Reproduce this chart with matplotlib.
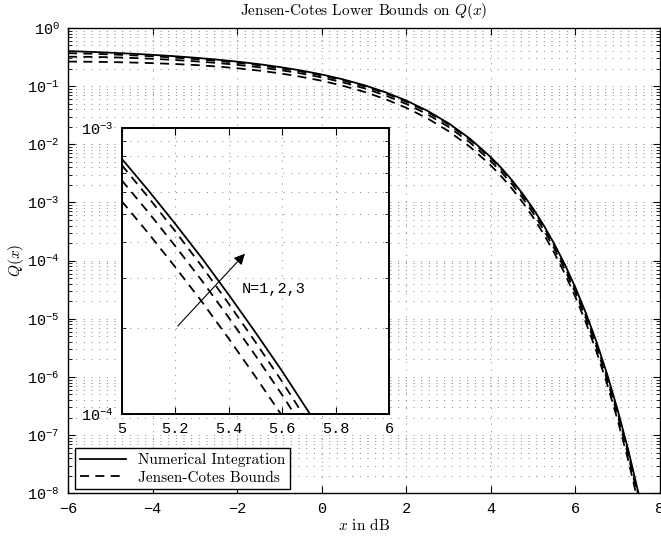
import matplotlib
matplotlib.use('Agg')
import matplotlib.pyplot as plt
import numpy as np
from matplotlib.ticker import LogLocator, NullFormatter, FormatStrFormatter, LogFormatterSciNotation

# x in dB and values (main plot)
x_db = [-6.0, -5.5, -5.0, -4.5, -4.0, -3.5, -3.0, -2.5, -2.0, -1.5, -1.0, -0.5,
        0.0, 0.5, 1.0, 1.5, 2.0, 2.5, 3.0, 3.5, 4.0, 4.25, 4.5, 4.75, 5.0, 5.25,
        5.5, 5.75, 6.0, 6.25, 6.5, 6.75, 7.0, 7.25, 7.5, 7.75]

q_num = [0.4008, 0.3890, 0.3759, 0.3614, 0.3453, 0.3275, 0.3081, 0.2870, 0.2640,
         0.2395, 0.2135, 0.1864, 0.1587, 0.1310, 0.1040, 0.0789, 0.0565, 0.0377,
         0.0230, 0.01259, 0.00600, 0.00390, 0.002413, 0.001416, 7.83e-4, 4.045e-4,
         1.94e-4, 8.55e-5, 3.43e-5, 1.24e-5, 3.97e-6, 1.115e-6, 2.69e-7, 5.52e-8,
         9.4e-9, 1.28e-9]

q_jc1 = [0.2645, 0.2626, 0.2594, 0.2548, 0.2486, 0.2407, 0.2311, 0.2181, 0.2033,
         0.1856, 0.1665, 0.1454, 0.1238, 0.1015, 0.0801, 0.0600, 0.0424, 0.0279,
         0.01679, 0.00913, 0.00432, 0.00280, 0.001725, 0.001008, 5.56e-4, 2.852e-4,
         1.358e-4, 5.94e-5, 2.367e-5, 8.49e-6, 2.70e-6, 7.53e-7, 1.80e-7, 3.67e-8,
         6.20e-9, 8.45e-10]

q_jc2 = [0.3206, 0.3190, 0.3139, 0.3054, 0.2952, 0.2823, 0.2680, 0.2511, 0.2323,
         0.2120, 0.1896, 0.1659, 0.1412, 0.1163, 0.0920, 0.0694, 0.0494, 0.0328,
         0.01990, 0.01083, 0.00513, 0.00332, 0.002051, 0.001197, 6.58e-4, 3.378e-4,
         1.610e-4, 7.01e-5, 2.795e-5, 1.004e-5, 3.20e-6, 8.92e-7, 2.15e-7, 4.39e-8,
         7.43e-9, 1.01e-9]

q_jc3 = [0.3687, 0.3618, 0.3515, 0.3397, 0.3263, 0.3105, 0.2927, 0.2732, 0.2521,
         0.2292, 0.2045, 0.1789, 0.1524, 0.1258, 0.0996, 0.0755, 0.0540, 0.0360,
         0.02192, 0.01199, 0.00571, 0.00371, 0.002292, 0.001345, 7.44e-4, 3.802e-4,
         1.795e-4, 7.78e-5, 3.104e-5, 1.116e-5, 3.57e-6, 1.004e-6, 2.42e-7, 4.97e-8,
         8.46e-9, 1.15e-9]

# finer readings for the zoomed inset
x_zoom = [5.0, 5.1, 5.2, 5.3, 5.4, 5.5, 5.6, 5.7, 5.8]
q_num_zoom = [7.83e-4, 6.06e-4, 4.635e-4, 3.512e-4, 2.619e-4, 1.933e-4, 1.413e-4, 1.015e-4, 7.175e-5]
q_jc1_zoom = [5.56e-4, 4.29e-4, 3.272e-4, 2.472e-4, 1.839e-4, 1.353e-4, 9.86e-5, 7.06e-5, 4.98e-5]
q_jc2_zoom = [6.58e-4, 5.08e-4, 3.875e-4, 2.929e-4, 2.179e-4, 1.604e-4, 1.167e-4, 8.34e-5, 5.87e-5]
q_jc3_zoom = [7.44e-4, 5.73e-4, 4.366e-4, 3.287e-4, 2.436e-4, 1.788e-4, 1.299e-4, 9.27e-5, 6.52e-5]

main_xticks = [-6, -4, -2, 0, 2, 4, 6, 8]
inset_xticks = [5.0, 5.2, 5.4, 5.6, 5.8, 6.0]

plt.rcParams['font.family'] = ['Liberation Mono', 'DejaVu Sans']
plt.rcParams['font.size'] = 11
plt.rcParams['mathtext.fontset'] = 'cm'

GRID = dict(color='0.45', linestyle=(0, (1.2, 8)), linewidth=0.6)
DASH = (0, (5, 3.5))
LW = 1.3


def style_log_axis(ax):
    ax.yaxis.set_major_locator(LogLocator(base=10, numticks=20))
    ax.yaxis.set_minor_locator(LogLocator(base=10, subs=np.arange(2, 10), numticks=20))
    ax.yaxis.set_major_formatter(LogFormatterSciNotation())
    ax.yaxis.set_minor_formatter(NullFormatter())
    ax.grid(True, which='major', **GRID)
    ax.grid(True, which='minor', axis='y', **GRID)
    ax.tick_params(which='both', direction='in', top=True, right=True, labelsize=11)
    ax.tick_params(which='major', length=5, pad=6)
    ax.tick_params(which='minor', length=3)


fig = plt.figure(figsize=(6.61, 5.39), dpi=100)

# main axes
ax = fig.add_axes([0.1029, 0.0848, 0.8956, 0.8633])
ax.semilogy(x_db, q_num, color='k', lw=LW, label='Numerical Integration')
for i, q in enumerate([q_jc1, q_jc2, q_jc3]):
    ax.semilogy(x_db, q, color='k', ls=DASH, lw=LW,
                label='Jensen-Cotes Bounds' if i == 0 else None)
ax.set_xlim(-6, 8)
ax.set_ylim(1e-8, 1)
ax.set_xticks(main_xticks)
style_log_axis(ax)
for s in ax.spines.values():
    s.set_linewidth(1.0)

ax.set_title('Jensen-Cotes Lower Bounds on $Q(x)$', family='cmr10', fontsize=11, pad=9)
ax.set_xlabel('$x$ in dB', family='cmr10', fontsize=11, labelpad=1)
ax.set_ylabel('$Q(x)$', family='cmr10', fontsize=11, labelpad=1)

leg = ax.legend(loc='lower left', bbox_to_anchor=(0.012, 0.009), borderaxespad=0,
                prop={'family': 'cmr10', 'size': 11}, handlelength=3,
                borderpad=0.3, labelspacing=0.25,
                fancybox=False, edgecolor='k', framealpha=1)
leg.get_frame().set_linewidth(1.0)

# zoomed inset
axin = fig.add_axes([0.1841, 0.2319, 0.4044, 0.530])
axin.semilogy(x_zoom, q_num_zoom, color='k', lw=LW)
for q in [q_jc1_zoom, q_jc2_zoom, q_jc3_zoom]:
    axin.semilogy(x_zoom, q, color='k', ls=DASH, lw=LW)
axin.set_xlim(5, 6)
axin.set_ylim(1e-4, 1e-3)
axin.set_xticks(inset_xticks)
axin.xaxis.set_major_formatter(FormatStrFormatter('%g'))
style_log_axis(axin)
for s in axin.spines.values():
    s.set_linewidth(1.4)

axin.annotate('', xy=(5.468, 3.7e-4), xytext=(5.203, 2.0e-4),
              arrowprops=dict(arrowstyle='-|>', color='k', lw=0.8, mutation_scale=16))
axin.text(5.45, 2.75e-4, 'N=1,2,3', va='center', ha='left', fontsize=11)

fig.savefig('out.png', dpi=100)
